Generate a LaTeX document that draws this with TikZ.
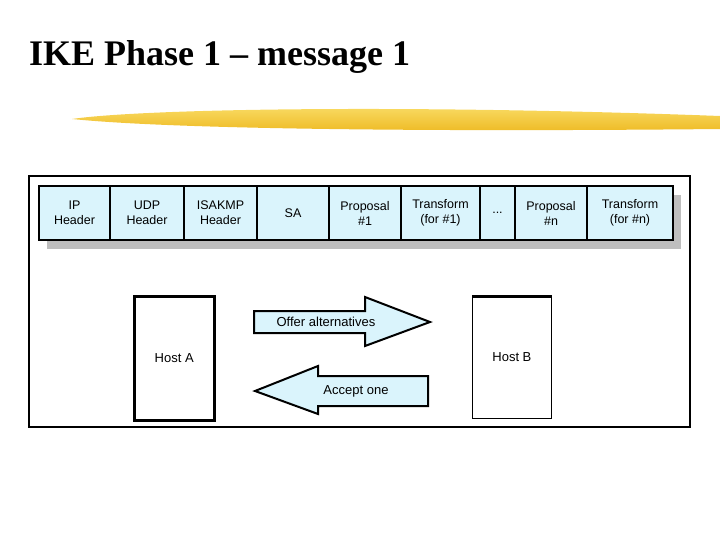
\documentclass[tikz,border=0pt]{standalone}
\usepackage{fontspec}
\setmainfont{Liberation Serif}
\newfontfamily\diagfont{Liberation Sans}
\usepackage{tikz}
\usetikzlibrary{positioning,backgrounds}
\definecolor{cellcyan}{RGB}{218,244,252}
\definecolor{shadowgray}{RGB}{190,190,190}
\definecolor{brushyellow}{RGB}{238,186,36}
\definecolor{brushlight}{RGB}{250,222,105}

\begin{document}
\begin{tikzpicture}[x=1pt, y=-1pt,
  cell/.style={draw, line width=2.2pt, fill=cellcyan, minimum height=54pt, inner sep=0pt, outer sep=0pt, align=center, font=\diagfont\fontsize{12.5}{15}\selectfont},
  host/.style={draw, fill=white, minimum width=80pt, minimum height=124pt, inner sep=0pt, font=\diagfont\fontsize{13}{15}\selectfont},
  bigarrow/.style={draw, line width=2pt, fill=cellcyan, line join=miter},
  lbl/.style={inner sep=0pt, font=\diagfont\fontsize{13}{15}\selectfont}
]
  \useasboundingbox (0,0) rectangle (720,540);

  % title and brush stroke
  \node[anchor=base west, inner sep=0pt, font=\bfseries\fontsize{36}{40}\selectfont] (title) at (29,66) {IKE Phase 1 -- message 1};
  \shade[top color=brushlight, bottom color=brushyellow]
    (72,119) .. controls (140,109) and (400,104) .. (720,116)
    -- (720,129) .. controls (420,132) and (170,129) .. (72,119) -- cycle;

  % frame
  \draw[line width=2pt] (29,176) rectangle (690,427);

  % packet layout
  \node[cell, minimum width=71pt, anchor=north west] (ip) at (39,186) {IP\\Header};
  \node[cell, minimum width=74pt, right=0pt of ip] (udp) {UDP\\Header};
  \node[cell, minimum width=73pt, right=0pt of udp] (isakmp) {ISAKMP\\Header};
  \node[cell, minimum width=72pt, right=0pt of isakmp] (sa) {SA};
  \node[cell, minimum width=72pt, right=0pt of sa] (prop1) {Proposal\\\#1};
  \node[cell, minimum width=79pt, right=0pt of prop1] (trans1) {Transform\\(for \#1)};
  \node[cell, minimum width=35pt, right=0pt of trans1] (dots) {...};
  \node[cell, minimum width=72pt, right=0pt of dots] (propn) {Proposal\\\#n};
  \node[cell, minimum width=86pt, right=0pt of propn] (transn) {Transform\\(for \#n)};
  \begin{scope}[on background layer]
    \fill[shadowgray] ([xshift=8pt,yshift=-9pt]ip.north west) rectangle ([xshift=8pt,yshift=-9pt]transn.south east);
  \end{scope}

  % hosts
  \node[host, line width=2.5pt, anchor=north west] (hosta) at (133,295) {Host A};
  \node[host, line width=0.8pt, minimum width=79pt, minimum height=122pt, anchor=north west] (hostb) at (472,296) {Host B};
  \draw[line width=3pt] (hostb.north west) -- (hostb.north east);

  % exchange arrows
  \draw[bigarrow] (254,311) -- (365,311) -- (365,297) -- (430,322) -- (365,346) -- (365,333) -- (254,333) -- cycle;
  \node[lbl] (offer) at (326,322) {Offer alternatives};
  \draw[bigarrow] (428,376) -- (318,376) -- (318,366) -- (255,391) -- (318,414) -- (318,406) -- (428,406) -- cycle;
  \node[lbl] (accept) at (356,391) {Accept one};
\end{tikzpicture}
\end{document}
